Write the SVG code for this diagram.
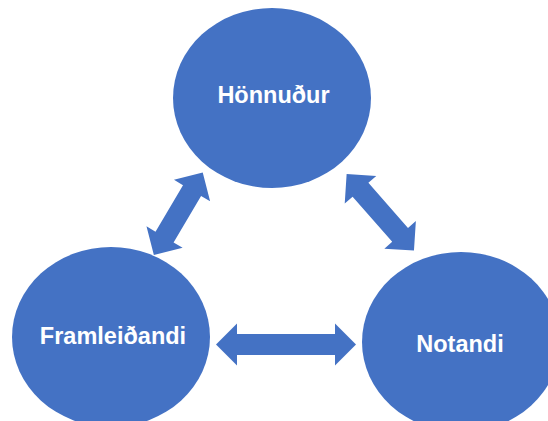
<svg xmlns="http://www.w3.org/2000/svg" width="548" height="421" viewBox="0 0 548 421">
<style>
.node{fill:#4472C4}
.lbl{fill:#FFFFFF;font-family:"Liberation Sans",Arial,sans-serif;font-weight:bold;font-size:23.5px;text-anchor:middle}
.arr{fill:#4472C4}
</style>
<rect width="548" height="421" fill="#FFFFFF"/>
<g id="connectors">
<path class="arr" transform="translate(286,344.5)" d="M-70,0 L-49,-21 L-49,-10.5 L49,-10.5 L49,-21 L70,0 L49,21 L49,10.5 L-49,10.5 L-49,21 Z"/>
<path class="arr" transform="translate(178.3,213.8) rotate(-59.4)" d="M-48,0 L-27,-21 L-27,-10.5 L27,-10.5 L27,-21 L48,0 L27,21 L27,10.5 L-27,10.5 L-27,21 Z"/>
<path class="arr" transform="translate(380.3,212.3) rotate(48.7)" d="M-51,0 L-30,-21 L-30,-10.5 L30,-10.5 L30,-21 L51,0 L30,21 L30,10.5 L-30,10.5 L-30,21 Z"/>
</g>
<g id="honnudur">
<ellipse class="node" cx="272" cy="98" rx="99" ry="90"/>
<text class="lbl" x="273.5" y="103">Hönnuður</text>
</g>
<g id="framleidandi">
<ellipse class="node" cx="111" cy="337" rx="99" ry="90"/>
<text class="lbl" x="113" y="344">Framleiðandi</text>
</g>
<g id="notandi">
<ellipse class="node" cx="461" cy="342" rx="99" ry="90"/>
<text class="lbl" x="460" y="352">Notandi</text>
</g>
</svg>
